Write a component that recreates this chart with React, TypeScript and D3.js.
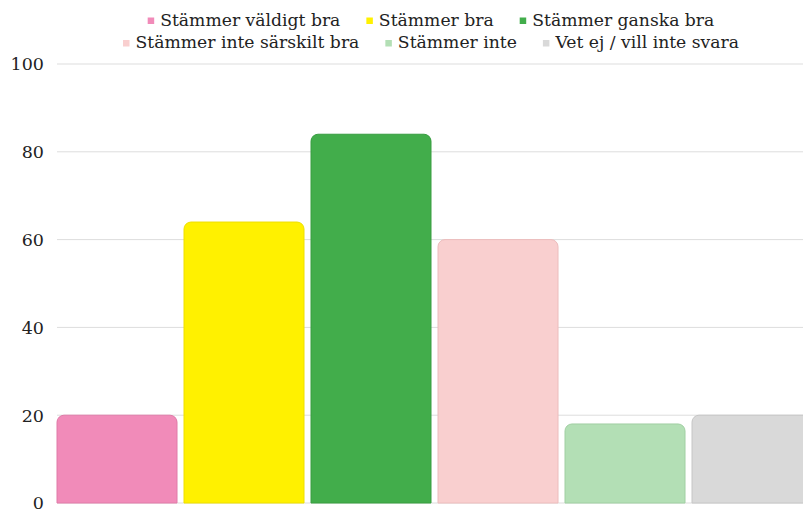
import React, { useEffect, useRef } from 'react';
import * as d3 from 'd3';

const categories = [
  'Stämmer väldigt bra',
  'Stämmer bra',
  'Stämmer ganska bra',
  'Stämmer inte särskilt bra',
  'Stämmer inte',
  'Vet ej / vill inte svara',
];
const values = [20, 64, 84, 60, 18, 20];
const colors = ['#f18bb9', '#fff100', '#42ad4b', '#f9cfcf', '#b3dfb5', '#d9d9d9'];
const strokes = ['#e07aa8', '#eedf00', '#389d41', '#ecbcbc', '#a0cfa2', '#c6c6c6'];
const yTicks = [0, 20, 40, 60, 80, 100];
const legendRows = [[0, 1, 2], [3, 4, 5]];

const width = 803;
const height = 510;
const margin = { left: 57, top: 64, right: -9, bottom: 7 };
const font = '"DejaVu Serif", serif';

const x = d3
  .scaleBand<string>()
  .domain(categories)
  .range([margin.left, width - margin.right])
  .paddingInner(7 / 127)
  .paddingOuter(0);

const y = d3
  .scaleLinear()
  .domain([0, 100])
  .range([height - margin.bottom, margin.top]);

// bar with rounded top corners only
function barPath(x0: number, y0: number, w: number, h: number, r: number) {
  const p = d3.path();
  p.moveTo(x0, y0 + h);
  p.lineTo(x0, y0 + r);
  p.arcTo(x0, y0, x0 + r, y0, r);
  p.lineTo(x0 + w - r, y0);
  p.arcTo(x0 + w, y0, x0 + w, y0 + r, r);
  p.lineTo(x0 + w, y0 + h);
  p.closePath();
  return p.toString();
}

export default function App() {
  const legendRef = useRef<SVGGElement>(null);

  useEffect(() => {
    const g = d3.select(legendRef.current);
    g.selectAll('*').remove();
    const centre = 431;
    const baselines = [25.5, 48];
    legendRows.forEach((row, ri) => {
      const rowG = g.append('g');
      let cx = 0;
      row.forEach(i => {
        rowG
          .append('rect')
          .attr('x', cx)
          .attr('y', baselines[ri] - 8)
          .attr('width', 6.5)
          .attr('height', 6.5)
          .attr('fill', colors[i]);
        const t = rowG
          .append('text')
          .attr('x', cx + 12.5)
          .attr('y', baselines[ri])
          .attr('font-family', font)
          .attr('font-size', 17.2)
          .attr('fill', '#222')
          .text(categories[i]);
        const tw = (t.node() as SVGTextElement).getComputedTextLength();
        cx += 12.5 + tw + 26;
      });
      const total = cx - 26;
      rowG.attr('transform', `translate(${centre - total / 2},0)`);
    });
  }, []);

  return (
    <svg width={width} height={height} style={{ position: 'absolute', left: 0, top: 0 }}>
      <g>
        {yTicks.map(t => (
          <g key={t}>
            <line
              x1={margin.left}
              x2={width}
              y1={y(t)}
              y2={y(t)}
              stroke="#dddddd"
              strokeWidth={1}
            />
            <text
              x={44}
              y={y(t)}
              dy="0.36em"
              textAnchor="end"
              fontFamily={font}
              fontSize={17.5}
              fill="#222"
            >
              {t}
            </text>
          </g>
        ))}
      </g>
      <g>
        {categories.map((c, i) => (
          <path
            key={c}
            d={barPath(x(c)!, y(values[i]), x.bandwidth(), y(0) - y(values[i]), 7)}
            fill={colors[i]}
            stroke={strokes[i]}
            strokeWidth={1}
          />
        ))}
      </g>
      <g ref={legendRef} />
    </svg>
  );
}
